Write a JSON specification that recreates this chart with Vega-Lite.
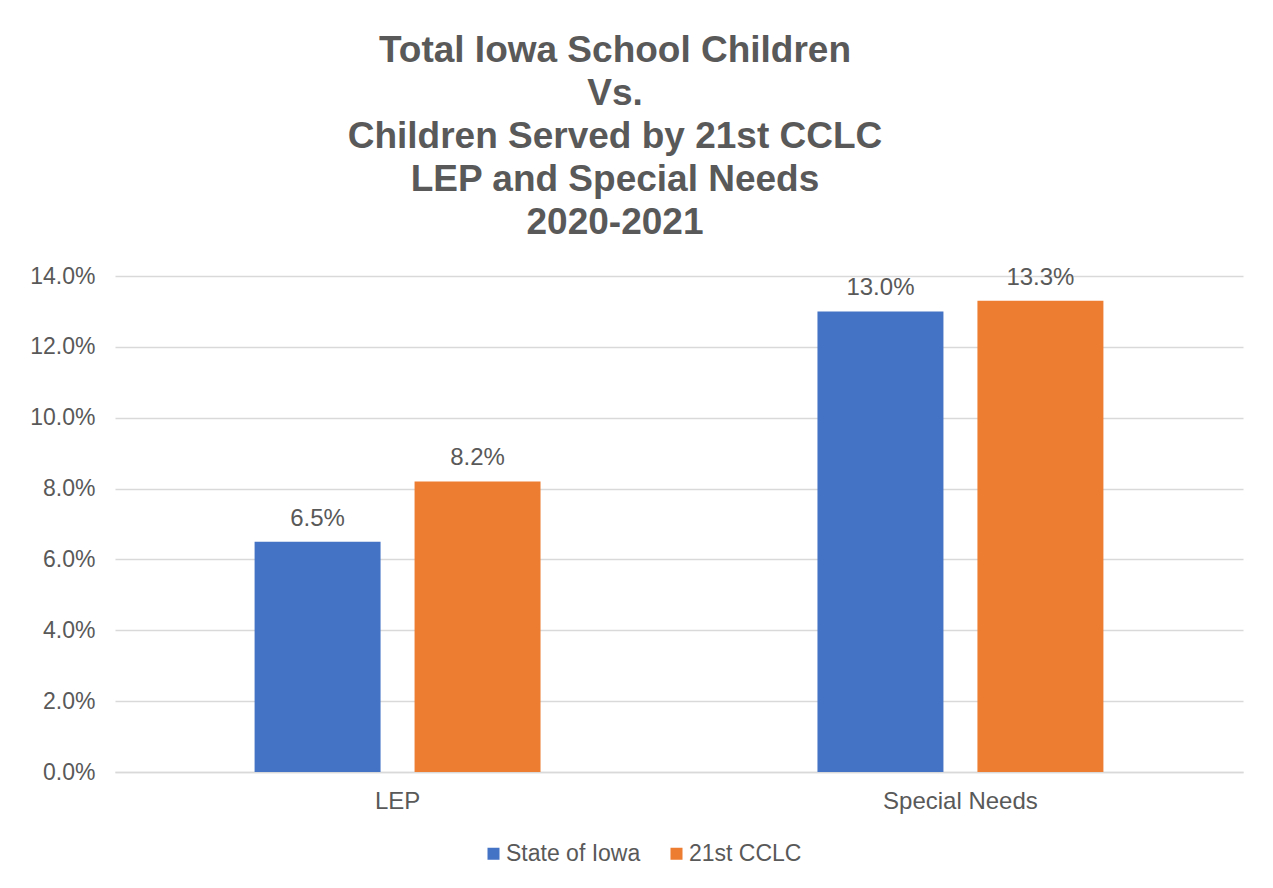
{
  "$schema": "https://vega.github.io/schema/vega-lite/v6.json",
  "autosize": "none",
  "width": 1128,
  "height": 496,
  "padding": {"left": 115, "top": 276, "right": 30, "bottom": 116},
  "background": "white",
  "config": {
    "font": "Liberation Sans",
    "view": {"stroke": null},
    "axis": {"labelColor": "#595959", "labelFont": "Liberation Sans", "labelFontSize": 23, "ticks": false, "title": null},
    "legend": {"labelColor": "#595959", "labelFont": "Liberation Sans", "labelFontSize": 23}
  },
  "title": {
    "text": ["Total Iowa School Children", "Vs.", "Children Served by 21st CCLC", "LEP and Special Needs", "2020-2021"],
    "fontSize": 37,
    "fontWeight": "bold",
    "color": "#595959",
    "font": "Liberation Sans",
    "lineHeight": 43,
    "anchor": "middle",
    "dx": -64,
    "offset": 23
  },
  "data": {
    "values": [
      {"category": "LEP", "series": "State of Iowa", "value": 0.065},
      {"category": "LEP", "series": "21st CCLC", "value": 0.082},
      {"category": "Special Needs", "series": "State of Iowa", "value": 0.130},
      {"category": "Special Needs", "series": "21st CCLC", "value": 0.133}
    ]
  },
  "encoding": {
    "x": {
      "field": "category",
      "type": "nominal",
      "sort": ["LEP", "Special Needs"],
      "scale": {"paddingInner": 0.492, "paddingOuter": 0.248},
      "axis": {"labelAngle": 0, "labelPadding": 17, "domainColor": "#D9D9D9", "domainWidth": 1.5, "labelFontSize": 24}
    },
    "xOffset": {
      "field": "series",
      "type": "nominal",
      "sort": ["State of Iowa", "21st CCLC"],
      "scale": {"paddingInner": 0.2125, "paddingOuter": 0}
    },
    "y": {
      "field": "value",
      "type": "quantitative",
      "scale": {"domain": [0, 0.14], "nice": false},
      "axis": {"format": ".1%", "values": [0, 0.02, 0.04, 0.06, 0.08, 0.10, 0.12, 0.14], "domain": false, "gridColor": "#D9D9D9", "gridWidth": 1.5, "labelPadding": 20}
    }
  },
  "layer": [
    {
      "mark": {"type": "bar"},
      "encoding": {
        "color": {
          "field": "series",
          "type": "nominal",
          "sort": ["State of Iowa", "21st CCLC"],
          "scale": {"domain": ["State of Iowa", "21st CCLC"], "range": ["#4472C4", "#ED7D31"]},
          "legend": {
            "title": null,
            "orient": "none",
            "direction": "horizontal",
            "legendX": 367,
            "legendY": 566,
            "symbolType": "square",
            "symbolSize": 144,
            "symbolStrokeWidth": 0,
            "labelOffset": 1,
            "columnPadding": 24
          }
        }
      }
    },
    {
      "mark": {"type": "text", "baseline": "alphabetic", "dy": -16, "fontSize": 24, "color": "#595959", "font": "Liberation Sans"},
      "encoding": {
        "text": {"field": "value", "type": "quantitative", "format": ".1%"}
      }
    }
  ]
}
